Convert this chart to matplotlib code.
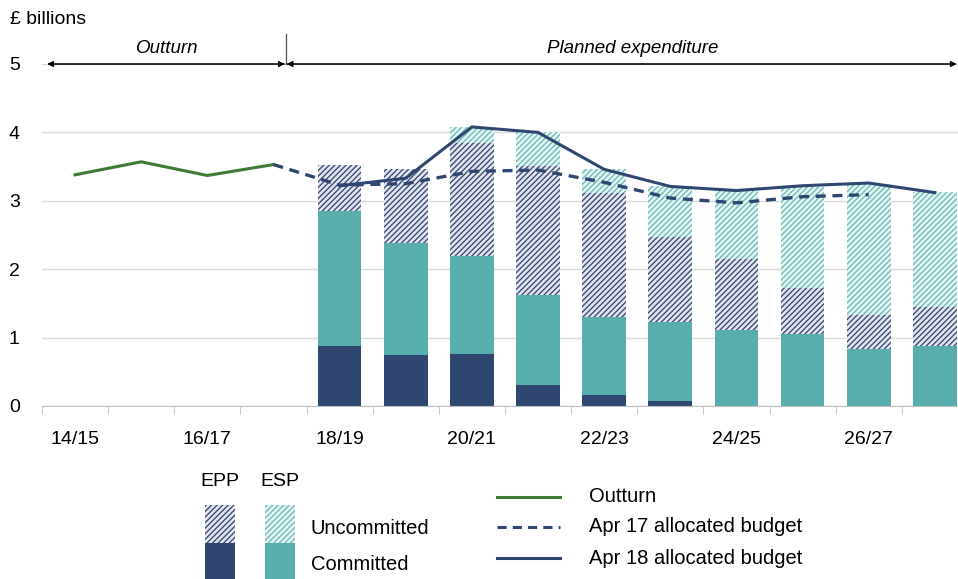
import numpy as np
import matplotlib.pyplot as plt
from matplotlib.patches import Rectangle
from matplotlib.lines import Line2D

plt.rcParams['font.family'] = ['Liberation Sans', 'DejaVu Sans']
plt.rcParams['hatch.linewidth'] = 1.0

# data
years = ['14/15', '15/16', '16/17', '17/18', '18/19', '19/20', '20/21',
         '21/22', '22/23', '23/24', '24/25', '25/26', '26/27', '27/28']
outturn = [3.38, 3.57, 3.37, 3.53]
apr17 = [3.53, 3.23, 3.25, 3.43, 3.45, 3.27, 3.04, 2.97, 3.06, 3.09]   # 17/18 .. 26/27
apr18 = [3.22, 3.33, 4.08, 4.00, 3.46, 3.21, 3.15, 3.22, 3.26, 3.12]   # 18/19 .. 27/28

# bars 18/19 .. 27/28, cumulative tops
epp_com = [0.87, 0.74, 0.76, 0.31, 0.16, 0.08, 0.0, 0.0, 0.0, 0.0]
esp_com_top = [2.85, 2.38, 2.19, 1.63, 1.30, 1.23, 1.11, 1.05, 0.84, 0.88]
epp_unc_top = [3.52, 3.46, 3.85, 3.51, 3.12, 2.47, 2.15, 1.72, 1.33, 1.45]
esp_unc_top = [3.52, 3.46, 4.08, 4.00, 3.46, 3.22, 3.16, 3.20, 3.25, 3.13]

navy = '#2f4670'
teal = '#58aeac'
green = '#3e7a33'
hatch_navy = '#3b4d75'
hatch_teal = '#6dbdb9'

W, H = 958, 579
fig = plt.figure(figsize=(W / 100, H / 100), dpi=100)
ax = fig.add_axes([42 / W, 173 / H, 1 - 42 / W, 342 / H])

xb = np.arange(4, 14)
epp_com = np.array(epp_com)
esp_com_top = np.array(esp_com_top)
epp_unc_top = np.array(epp_unc_top)
esp_unc_top = np.array(esp_unc_top)
bw = 0.66
ax.bar(xb, epp_com, bw, color=navy, linewidth=0, zorder=2)
ax.bar(xb, esp_com_top - epp_com, bw, bottom=epp_com, color=teal, linewidth=0, zorder=2)
ax.bar(xb, epp_unc_top - esp_com_top, bw, bottom=esp_com_top, facecolor='#e3e6ee',
       edgecolor=hatch_navy, hatch='//////', linewidth=0, zorder=2)
ax.bar(xb, esp_unc_top - epp_unc_top, bw, bottom=epp_unc_top, facecolor='#e6f4f3',
       edgecolor=hatch_teal, hatch='//////', linewidth=0, zorder=2)

ax.plot(np.arange(0, 4), outturn, color=green, lw=2.2, zorder=3)
ax.plot(np.arange(3, 13), apr17, color=navy, lw=2.4, ls=(0, (3, 2)), zorder=3)
ax.plot(np.arange(4, 14), apr18, color=navy, lw=2.2, zorder=3)

ax.set_xlim(-0.5, 13.35)
ax.set_ylim(0, 5)
ax.set_yticks([0, 1, 2, 3, 4, 5])
ax.grid(axis='y', color='#d9d9d9', lw=1, zorder=0)
ax.set_axisbelow(True)
ax.set_xticks(np.arange(0, 14, 2))
ax.set_xticklabels(years[::2])
ax.set_xticks(np.arange(-0.5, 13.5, 1), minor=True)
ax.tick_params(axis='x', which='major', length=0, pad=18, labelsize=14)
ax.tick_params(axis='x', which='minor', length=6, color='#bfbfbf')
ax.tick_params(axis='y', length=0, pad=16, labelsize=14)
for s in ['top', 'right', 'left']:
    ax.spines[s].set_visible(False)
ax.spines['bottom'].set_color('#bfbfbf')

# period annotations
arrow = dict(arrowstyle='-|>', color='black', lw=0.8, mutation_scale=9, shrinkA=0, shrinkB=0)
ax.annotate('', xy=(-0.42, 5), xytext=(3.17, 5), annotation_clip=False, arrowprops=arrow)
ax.annotate('', xy=(3.17, 5), xytext=(-0.4, 5), annotation_clip=False, arrowprops=arrow)
ax.annotate('', xy=(3.2, 5), xytext=(13.3, 5), annotation_clip=False, arrowprops=arrow)
ax.annotate('', xy=(13.33, 5), xytext=(3.2, 5), annotation_clip=False, arrowprops=arrow)
ax.plot([3.185, 3.185], [5.0, 5.44], color='#555555', lw=0.9, clip_on=False)
ax.text(1.39, 5.1, 'Outturn', style='italic', fontsize=13.5, ha='center', va='bottom')
ax.text(8.43, 5.1, 'Planned expenditure', style='italic', fontsize=13.5, ha='center', va='bottom')

fig.text(10 / W, 1 - 20 / H, '£ billions', fontsize=14, va='center')


# legend drawn in pixel space
def fx(px):
    return px / W


def fy(py):
    return 1 - py / H


def swatch(x0, y0, y1, **kw):
    fig.add_artist(Rectangle((fx(x0), fy(y1)), 30 / W, (y1 - y0) / H,
                             transform=fig.transFigure, linewidth=0, **kw))


swatch(205, 505, 543, facecolor='#e3e6ee', edgecolor=hatch_navy, hatch='//////')
swatch(205, 543, 590, facecolor=navy)
swatch(265, 505, 543, facecolor='#e6f4f3', edgecolor=hatch_teal, hatch='//////')
swatch(265, 543, 590, facecolor=teal)
fig.text(fx(220), fy(481), 'EPP', fontsize=14, ha='center', va='center')
fig.text(fx(280), fy(481), 'ESP', fontsize=14, ha='center', va='center')
fig.text(fx(310), fy(528), 'Uncommitted', fontsize=14.5, va='center')
fig.text(fx(311), fy(565), 'Committed', fontsize=14.5, va='center')

for py, ls, col, lab in [(497, '-', green, 'Outturn'),
                         (527, (0, (3, 2)), navy, 'Apr 17 allocated budget'),
                         (558, '-', navy, 'Apr 18 allocated budget')]:
    fig.add_artist(Line2D([fx(497), fx(560)], [fy(py), fy(py)], color=col, lw=2.2,
                          ls=ls, transform=fig.transFigure))
    fig.text(fx(589), fy(py), lab, fontsize=14.5, va='center')

fig.savefig('out.png', dpi=100)
